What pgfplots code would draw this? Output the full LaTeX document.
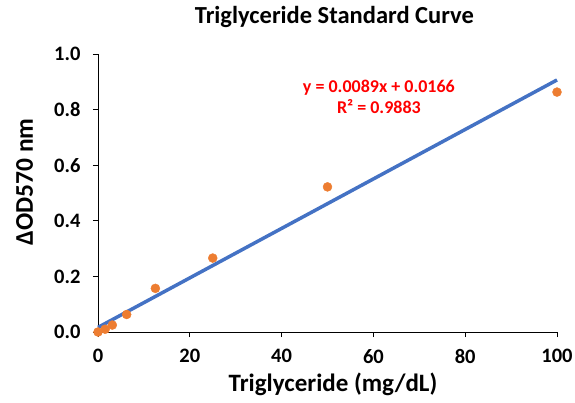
\documentclass[border=0pt]{standalone}
\usepackage{pgfplots}
\pgfplotsset{compat=1.18}
\usepackage{fontspec}
\setmainfont{Carlito}
\definecolor{lineblue}{HTML}{4472C4}
\definecolor{ptorange}{HTML}{ED7D31}
\begin{document}
\begin{tikzpicture}[x=1pt,y=1pt]
\useasboundingbox (-98,-70) rectangle (477,332);
\begin{axis}[
  at={(0,0)}, anchor=south west,
  scale only axis, width=459pt, height=278pt,
  xmin=0, xmax=100, ymin=0, ymax=1,
  axis lines=left, axis line style={-, black, line width=0.9pt},
  xtick={0,20,...,100}, ytick={0,0.2,0.4,0.6,0.8,1.0},
  tick align=outside, major tick length=5pt,
  tick style={black, line width=0.9pt},
  minor tick num=0,
  /pgf/number format/assume math mode=true,
  y tick label style={/pgf/number format/fixed, /pgf/number format/fixed zerofill, /pgf/number format/precision=1, xshift=-9pt},
  x tick label style={/pgf/number format/fixed, /pgf/number format/precision=0, yshift=-9pt},
  tick label style={font=\fontsize{20.5}{22}\selectfont\bfseries},
  clip=false,
  xlabel={Triglyceride (mg/dL)},
  xlabel style={font=\fontsize{25}{28}\selectfont\bfseries, at={(axis description cs:0.512,0)}, anchor=center, yshift=-52pt},
  ylabel={ΔOD570 nm},
  ylabel style={font=\fontsize{25.5}{28}\selectfont\bfseries, at={(axis description cs:-0.16,0.54)}, anchor=center},
  title={Triglyceride Standard Curve},
  title style={font=\fontsize{24.5}{27}\selectfont\bfseries, at={(axis description cs:0.515,1)}, anchor=center, yshift=31pt},
]
\addplot[lineblue, line width=3.5pt, no marks] coordinates {(0,0.0166) (100,0.9066)};
\addplot[only marks, mark=*, mark size=4.5pt, mark options={fill=ptorange, draw=ptorange}] coordinates {
  (0,0) (1.5625,0.01) (3.125,0.025) (6.25,0.063) (12.5,0.157) (25,0.266) (50,0.522) (100,0.863)
};
\node[font=\fontsize{18}{21}\selectfont\bfseries, text=red, align=center] at (axis cs:61.2,0.847) {y = 0.0089x + 0.0166\\R² = 0.9883};
\end{axis}
\end{tikzpicture}
\end{document}
